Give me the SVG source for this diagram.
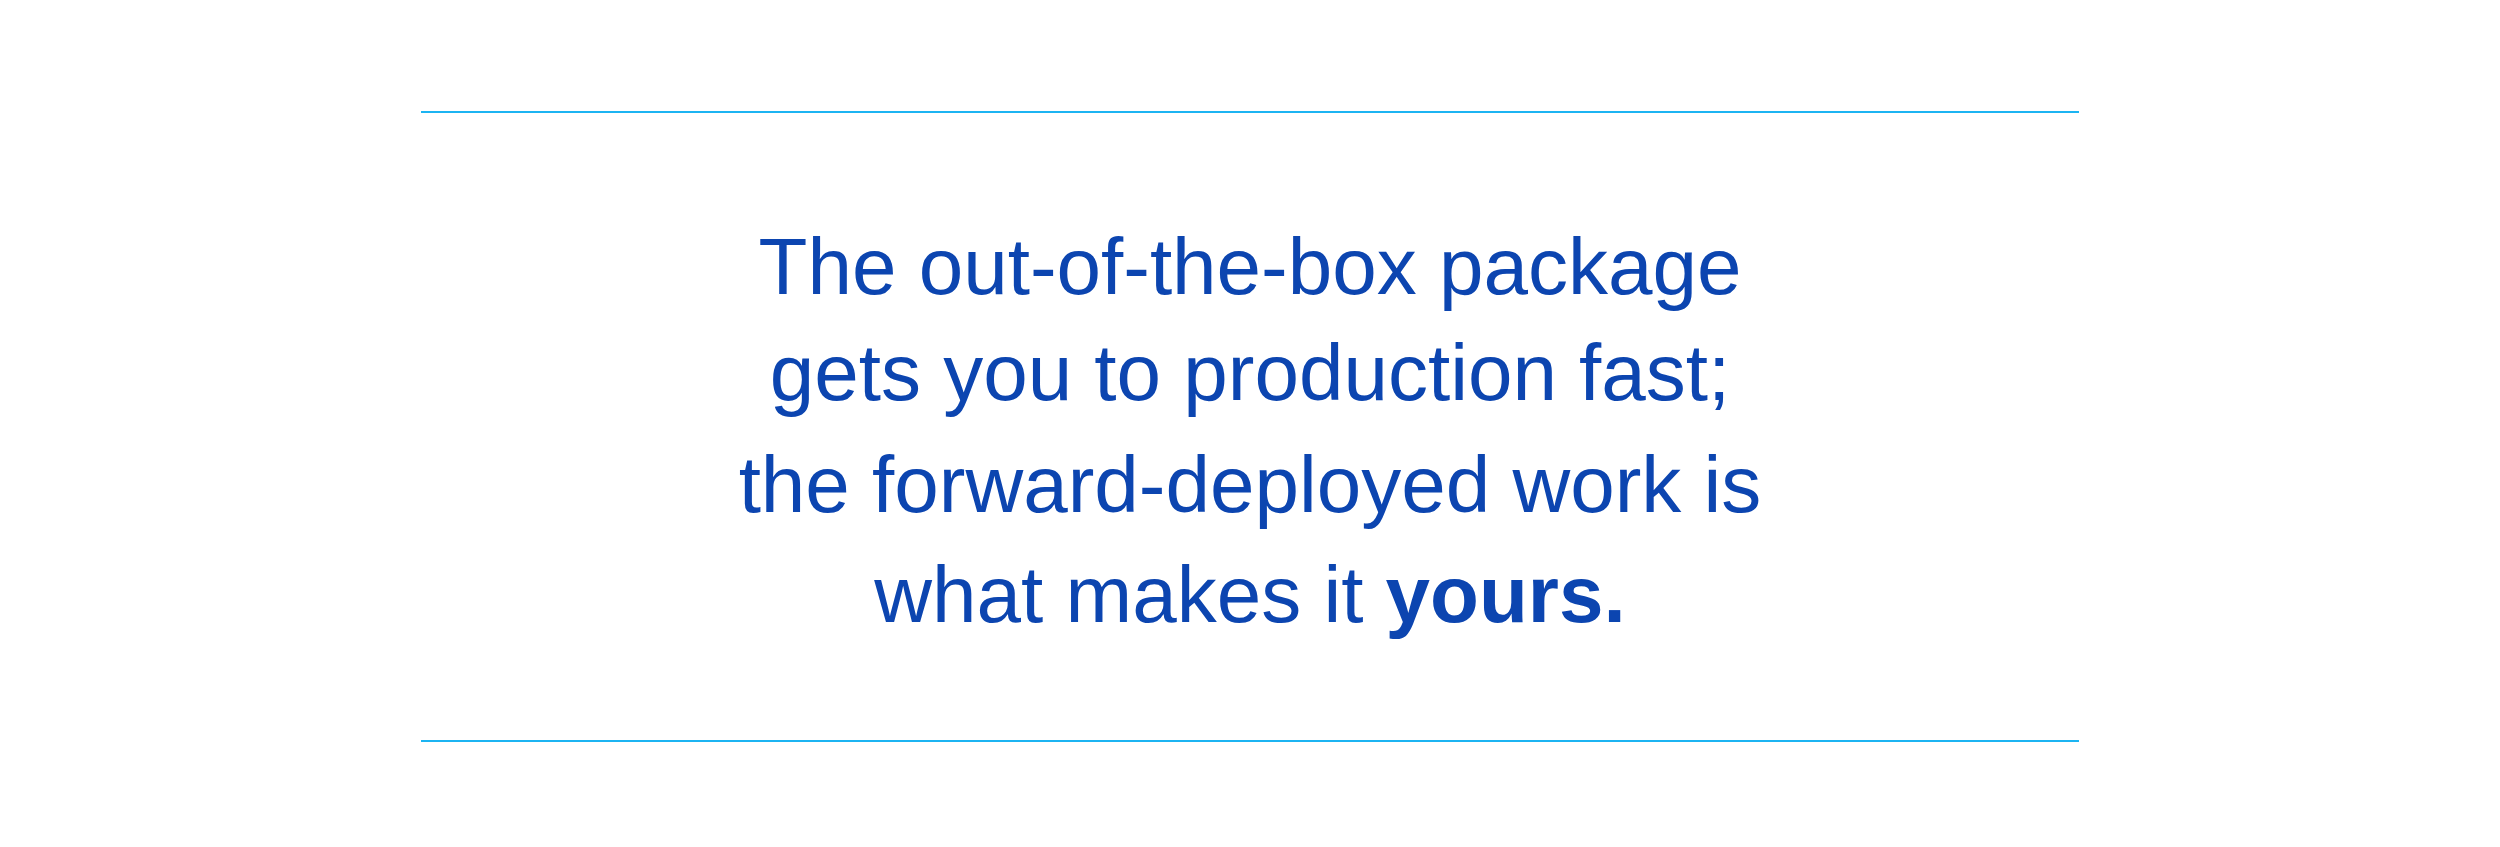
<svg xmlns="http://www.w3.org/2000/svg" width="2500" height="847" viewBox="0 0 2500 847">
<style>
.t{font-family:"Liberation Sans",Arial,sans-serif;font-size:80px;fill:#0C45B0;text-anchor:middle}
.r{stroke:#1CB4F2;stroke-width:2}
</style>
<rect width="2500" height="847" fill="#fff"/>
<line class="r" x1="421" y1="112" x2="2079" y2="112"/>
<line class="r" x1="421" y1="741" x2="2079" y2="741"/>
<g id="quote">
<text class="t" x="1250" y="294">The out-of-the-box package</text>
<text class="t" x="1250" y="400">gets you to production fast;</text>
<text class="t" x="1250" y="512">the forward-deployed work is</text>
<text class="t" x="1250" y="622">what makes it <tspan font-weight="bold">yours.</tspan></text>
</g>
</svg>
